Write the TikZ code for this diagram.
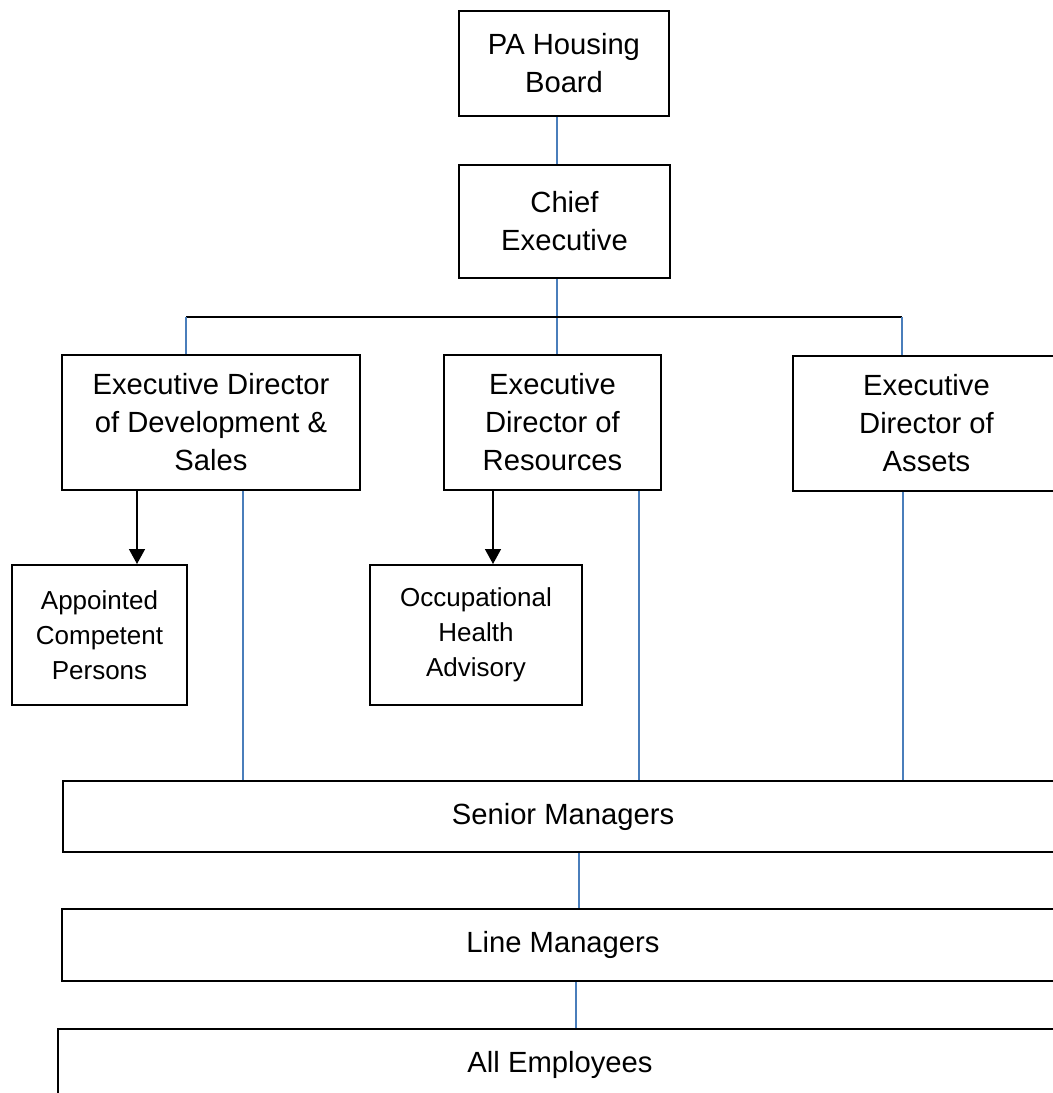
\documentclass[tikz,border=0pt]{standalone}
\usepackage{fontspec}
\setmainfont{Liberation Sans}
\usepackage{tikz}
\usetikzlibrary{arrows.meta, positioning}
\definecolor{linkblue}{HTML}{4A7EBB}

\begin{document}
\begin{tikzpicture}[x=0.5pt, y=-0.5pt,
	orgbox/.style={draw, line width=1pt, rectangle, align=center, inner sep=0pt,
		font=\fontsize{14.6}{19}\selectfont},
	smallbox/.style={orgbox, font=\fontsize{13}{17.5}\selectfont},
	link/.style={draw=linkblue, line width=0.75pt},
	bus/.style={draw, line width=0.75pt},
	arrowlink/.style={draw, line width=0.75pt, -{Triangle[length=7.5pt, width=8pt]}}]
	% 画布
	\useasboundingbox (0,0) rectangle (1053,1093);
	\fill[white] (0,0) rectangle (1053,1093);
	\clip (0,0) rectangle (1053,1093);
	
	% 上层
	\node[orgbox, minimum width=105pt, minimum height=52.5pt] (board) at (564,63.5) {PA Housing\\Board};
	\node[orgbox, minimum width=105.5pt, minimum height=56.5pt] (ceo) at (564.5,221.5) {Chief\\Executive};
	
	% 执行董事
	\node[orgbox, minimum width=149pt, minimum height=67.5pt] (dev) at (211,422.5) {Executive Director\\of Development \&\\Sales};
	\node[orgbox, minimum width=108.5pt, minimum height=67.5pt] (res) at (552.5,422.5) {Executive\\Director of\\Resources};
	\node[orgbox, minimum width=133.5pt, minimum height=67.5pt] (assets) at (926.5,423.5) {Executive\\Director of\\Assets};
	
	% 顾问
	\node[smallbox, minimum width=87.5pt, minimum height=70pt] (apc) at (99.5,635) {Appointed\\Competent\\Persons};
	\node[smallbox, minimum width=106pt, minimum height=70pt] (ohs) at (476,635) {Occupational\\Health\\Advisory};
	
	% 下层
	\node[orgbox, minimum width=500pt, minimum height=35.5pt] (senior) at (563,816.5) {Senior Managers};
	\node[orgbox, minimum width=501pt, minimum height=36pt] (line) at (563,945) {Line Managers};
	\node[orgbox, minimum width=502pt, minimum height=36pt] (all) at (560,1065) {All Employees};
	
	% 连线位置
	\coordinate (spine) at (557,0);
	\coordinate (busL) at (186,317);
	\coordinate (busR) at (902,317);
	\coordinate (devA) at (137,0);
	\coordinate (devL) at (243,0);
	\coordinate (resA) at (493,0);
	\coordinate (resL) at (639,0);
	\coordinate (assL) at (903,0);
	\coordinate (midA) at (579,0);
	\coordinate (midB) at (576,0);
	
	% 连线
	\draw[link] (board.south -| spine) -- (ceo.north -| spine);
	\draw[link] (ceo.south -| spine) -- (res.north -| spine);
	\draw[bus] (busL) -- (busR);
	\draw[link] (busL) -- (busL |- dev.north);
	\draw[link] (busR) -- (busR |- assets.north);
	\draw[arrowlink] (dev.south -| devA) -- (apc.north -| devA);
	\draw[arrowlink] (res.south -| resA) -- (ohs.north -| resA);
	\draw[link] (dev.south -| devL) -- (senior.north -| devL);
	\draw[link] (res.south -| resL) -- (senior.north -| resL);
	\draw[link] (assets.south -| assL) -- (senior.north -| assL);
	\draw[link] (senior.south -| midA) -- (line.north -| midA);
	\draw[link] (line.south -| midB) -- (all.north -| midB);
\end{tikzpicture}
\end{document}
